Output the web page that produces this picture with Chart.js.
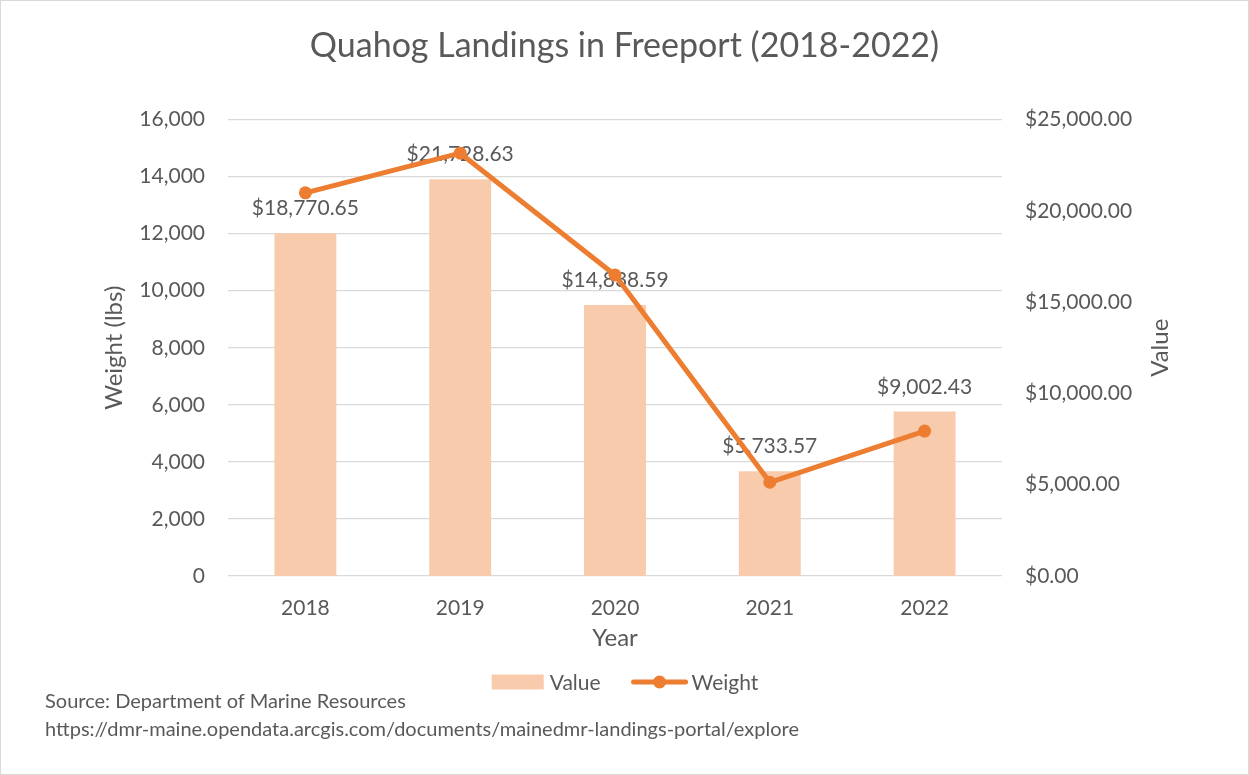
<!DOCTYPE html>
<html>
<head>
<meta charset="utf-8">
<script src="https://cdn.jsdelivr.net/npm/chart.js@4"></script>
<style>
  html, body { margin: 0; padding: 0; background: #fff; }
  #wrap { position: relative; width: 1249px; height: 775px; overflow: hidden; }
  #frame { position: absolute; left: 0; top: 0; width: 1249px; height: 775px; box-sizing: border-box;
           border: 1px solid #d9d9d9; pointer-events: none; }
  .src { position: absolute; left: 45px; font-family: Lato, sans-serif; font-size: 20px; color: #595959;
         white-space: nowrap; line-height: 20px; }
</style>
</head>
<body>
<div id="wrap">
  <canvas id="chart" width="1249" height="775"></canvas>
  <div class="src" style="top:690px">Source: Department of Marine Resources</div>
  <div class="src" style="top:718px">https://dmr-maine.opendata.arcgis.com/documents/mainedmr-landings-portal/explore</div>
  <div id="frame"></div>
</div>
<script>
// ---- data ----
const years = ['2018', '2019', '2020', '2021', '2022'];
const valueUsd = [18770.65, 21728.63, 14838.59, 5733.57, 9002.43];
const weightLbs = [13430, 14820, 10550, 3285, 5080];

const FONT = 'Lato, sans-serif';
const TEXT = '#595959';
const BAR_COLOR = '#F8CBAD';
const LINE_COLOR = '#ED7D31';

const money = v => '$' + v.toLocaleString('en-US', { minimumFractionDigits: 2, maximumFractionDigits: 2 });

// labels above bars, drawn before the line so the line sits on top
const barLabels = {
  id: 'barLabels',
  afterDatasetDraw(chart, args) {
    if (args.index !== 0) return;
    const ctx = chart.ctx;
    ctx.save();
    ctx.font = '21px ' + FONT;
    ctx.fillStyle = TEXT;
    ctx.textAlign = 'center';
    ctx.textBaseline = 'alphabetic';
    args.meta.data.forEach((bar, i) => {
      ctx.fillText(money(valueUsd[i]), bar.x, bar.y - 18);
    });
    ctx.restore();
  }
};

// right axis title (reads bottom to top) and legend
const extras = {
  id: 'extras',
  afterDraw(chart) {
    const ctx = chart.ctx;
    const area = chart.chartArea;
    ctx.save();
    ctx.fillStyle = TEXT;
    ctx.font = '24px ' + FONT;
    ctx.textAlign = 'center';
    ctx.textBaseline = 'middle';
    ctx.translate(1160, (area.top + area.bottom) / 2);
    ctx.rotate(-Math.PI / 2);
    ctx.fillText('Value', 0, 0);
    ctx.restore();

    // legend
    ctx.save();
    ctx.font = '21px ' + FONT;
    ctx.textBaseline = 'middle';
    ctx.textAlign = 'left';
    const y = 682;
    const w1 = ctx.measureText('Value').width;
    const w2 = ctx.measureText('Weight').width;
    const total = 52 + 6 + w1 + 31 + 56 + 4 + w2;
    let x = 625 - total / 2;
    ctx.fillStyle = BAR_COLOR;
    ctx.fillRect(x, y - 7.5, 52, 15);
    x += 58;
    ctx.fillStyle = TEXT;
    ctx.fillText('Value', x, y + 1);
    x += w1 + 31;
    ctx.strokeStyle = LINE_COLOR;
    ctx.lineWidth = 5;
    ctx.lineCap = 'round';
    ctx.beginPath();
    ctx.moveTo(x + 2, y);
    ctx.lineTo(x + 54, y);
    ctx.stroke();
    ctx.fillStyle = LINE_COLOR;
    ctx.beginPath();
    ctx.arc(x + 28, y, 6.5, 0, Math.PI * 2);
    ctx.fill();
    x += 60;
    ctx.fillStyle = TEXT;
    ctx.fillText('Weight', x, y + 1);
    ctx.restore();
  }
};

new Chart(document.getElementById('chart'), {
  data: {
    labels: years,
    datasets: [
      {
        type: 'bar',
        label: 'Value',
        data: valueUsd,
        yAxisID: 'y1',
        backgroundColor: BAR_COLOR,
        categoryPercentage: 1,
        barPercentage: 0.4,
        order: 1
      },
      {
        type: 'line',
        label: 'Weight',
        data: weightLbs,
        yAxisID: 'y',
        borderColor: LINE_COLOR,
        backgroundColor: LINE_COLOR,
        borderWidth: 5,
        borderCapStyle: 'round',
        borderJoinStyle: 'round',
        pointRadius: 6.5,
        pointBackgroundColor: LINE_COLOR,
        pointBorderWidth: 0,
        tension: 0,
        order: 0
      }
    ]
  },
  options: {
    responsive: false,
    animation: false,
    devicePixelRatio: 1,
    layout: { padding: { left: 0, right: 0, top: 0, bottom: 119 } },
    plugins: {
      legend: { display: false },
      tooltip: { enabled: false },
      title: {
        display: true,
        text: 'Quahog Landings in Freeport (2018-2022)',
        color: TEXT,
        font: { family: FONT, size: 34, weight: 'normal' },
        padding: { top: 25.6, bottom: 53.1 }
      }
    },
    scales: {
      x: {
        grid: { display: false },
        border: { display: false },
        ticks: { color: TEXT, font: { family: FONT, size: 21 }, padding: 12 },
        title: {
          display: true, text: 'Year', color: TEXT,
          font: { family: FONT, size: 24 }, padding: { top: 0, bottom: 3 }
        },
        afterFit(scale) { scale.height = 80; }
      },
      y: {
        position: 'left',
        min: 0, max: 16000,
        ticks: {
          stepSize: 2000, color: TEXT, font: { family: FONT, size: 21 }, padding: 23,
          callback: v => v.toLocaleString('en-US')
        },
        grid: { color: '#D9D9D9', lineWidth: 1.3, drawTicks: false },
        border: { display: false },
        title: {
          display: true, text: 'Weight (lbs)', color: TEXT,
          font: { family: FONT, size: 24 }, padding: { top: 100, bottom: 0 }
        },
        afterFit(scale) { scale.width = 228; }
      },
      y1: {
        position: 'right',
        min: 0, max: 25000,
        ticks: {
          stepSize: 5000, color: TEXT, font: { family: FONT, size: 21 }, padding: 23,
          callback: v => money(v)
        },
        grid: { display: false, drawTicks: false },
        border: { display: false },
        afterFit(scale) { scale.width = 1249 - 1002; }
      }
    }
  },
  plugins: [barLabels, extras]
});
</script>
</body>
</html>
